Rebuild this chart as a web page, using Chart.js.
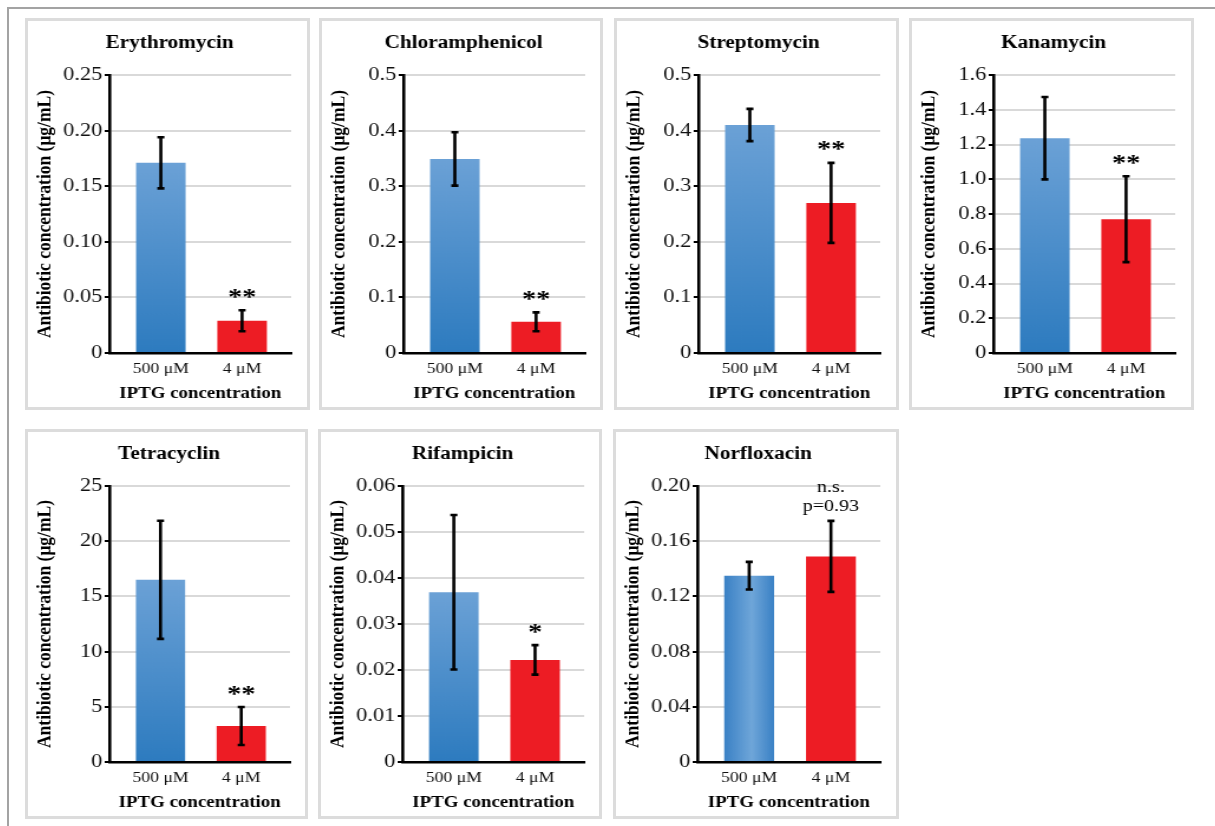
<!doctype html>
<html lang="en">
<head>
<meta charset="utf-8">
<title>Antibiotic concentration vs IPTG</title>
<style>
  * { box-sizing: border-box; margin: 0; padding: 0; }
  body { width: 1215px; height: 826px; background: #fff; position: relative; overflow: hidden; }
  .frame { position: absolute; left: 7px; top: 7px; width: 1230px; height: 840px;
    border-top: 2px solid #a3a3a3; border-left: 2px solid #a3a3a3; }
  .panel { position: absolute; border: 3px solid #dcdcdc; background: #fff; overflow: hidden; }
  .panel canvas { position: absolute; left: 0; top: 0; transform-origin: 0 0; }
</style>
</head>
<body>
<div class="frame"></div>
<div id="panels"></div>
<script src="https://cdn.jsdelivr.net/npm/chart.js@4.4.1/dist/chart.umd.min.js"></script>
<script>
// values (means and error-bar half-lengths)
const antibiotics = ["Erythromycin", "Chloramphenicol", "Streptomycin", "Kanamycin", "Tetracyclin", "Rifampicin", "Norfloxacin"];
const doseLabels = ["500 μM", "4 μM"];
const mean500 = [0.171, 0.349, 0.41, 1.236, 16.5, 0.0369, 0.135];
const mean4 = [0.029, 0.056, 0.27, 0.77, 3.26, 0.0222, 0.149];
const err500 = [0.023, 0.048, 0.029, 0.237, 5.35, 0.0168, 0.010];
const err4 = [0.0095, 0.017, 0.072, 0.247, 1.72, 0.0032, 0.0257];
const marks = [["**"], ["**"], ["**"], ["**"], ["**"], ["*"], ["n.s.", "p=0.93"]];
const yTicks = [
  ["0", "0.05", "0.10", "0.15", "0.20", "0.25"],
  ["0", "0.1", "0.2", "0.3", "0.4", "0.5"],
  ["0", "0.1", "0.2", "0.3", "0.4", "0.5"],
  ["0", "0.2", "0.4", "0.6", "0.8", "1.0", "1.2", "1.4", "1.6"],
  ["0", "5", "10", "15", "20", "25"],
  ["0", "0.01", "0.02", "0.03", "0.04", "0.05", "0.06"],
  ["0", "0.04", "0.08", "0.12", "0.16", "0.20"],
];

// page layout: [left, top, width, height] of each boxed panel
const boxes = [
  [25, 18, 285, 392], [319, 18, 284, 392], [614, 18, 285, 392], [909, 18, 285, 392],
  [25, 429, 283, 390], [318, 429, 284, 390], [613, 429, 286, 390],
];
const SX = 1.18;               // the figure is stretched horizontally
const SERIF = '"Liberation Serif", "Times New Roman", serif';
const RED = "#ed1c24";
const BAR_PCT = 0.61;
// the two bars sit a little inside the plot, so x runs on a padded linear range
const X_MIN = -0.633, X_MAX = 1.604;

const errorBars = {
  id: "errorBars",
  afterDatasetsDraw(chart) {
    const ds = chart.data.datasets[0];
    const y = chart.scales.y, ctx = chart.ctx;
    const bars = chart.getDatasetMeta(0).data;
    ctx.save();
    ctx.strokeStyle = "#000";
    ctx.lineWidth = 2.6;
    bars.forEach((bar, i) => {
      const v = ds.data[i].y;
      const top = y.getPixelForValue(v + ds.errors[i]);
      const bot = y.getPixelForValue(v - ds.errors[i]);
      ctx.beginPath();
      ctx.moveTo(bar.x, top); ctx.lineTo(bar.x, bot);
      ctx.moveTo(bar.x - 3, top); ctx.lineTo(bar.x + 3, top);
      ctx.moveTo(bar.x - 3, bot); ctx.lineTo(bar.x + 3, bot);
      ctx.stroke();
    });
    // significance mark above the 4 μM bar
    const b = bars[1];
    const errTop = y.getPixelForValue(ds.data[1].y + ds.errors[1]);
    ctx.fillStyle = "#000";
    ctx.textAlign = "center";
    ctx.textBaseline = "alphabetic";
    if (ds.mark.length === 1) {
      ctx.font = "bold 24px " + SERIF;
      ctx.fillText(ds.mark[0], b.x, errTop - 6.5);
    } else {
      ctx.font = "17px " + SERIF;
      ctx.fillText(ds.mark[1], b.x, errTop - 9.5);
      ctx.fillText(ds.mark[0], b.x, errTop - 29);
    }
    ctx.restore();
  }
};

function barFill(k) {
  return (c) => {
    const chart = c.chart, area = chart.chartArea;
    if (c.dataIndex === 1) return RED;
    if (!area) return "#4a8fcd";
    const y = chart.scales.y, x = chart.scales.x;
    const ctx = chart.ctx;
    let g;
    if (k === 6) {
      const cx = x.getPixelForValue(0);
      const hw = (x.getPixelForValue(1) - cx) * BAR_PCT / 2;
      g = ctx.createLinearGradient(cx - hw, 0, cx + hw, 0);
      g.addColorStop(0, "#3a81c5");
      g.addColorStop(0.55, "#6fa6d9");
      g.addColorStop(1, "#3a81c5");
    } else {
      g = ctx.createLinearGradient(0, y.getPixelForValue(c.parsed.y), 0, y.getPixelForValue(0));
      g.addColorStop(0, "#6ba1d6");
      g.addColorStop(1, "#2d7bbf");
    }
    return g;
  };
}

const holder = document.getElementById("panels");
antibiotics.forEach((name, k) => {
  const [l, t, w, h] = boxes[k];
  const div = document.createElement("div");
  div.className = "panel";
  Object.assign(div.style, { left: l + "px", top: t + "px", width: w + "px", height: h + "px" });
  const cv = document.createElement("canvas");
  cv.width = Math.round((w - 6) / SX);
  cv.height = h - 6;
  cv.style.transform = "scaleX(" + SX + ")";
  div.appendChild(cv);
  holder.appendChild(div);

  const ticks = yTicks[k];
  new Chart(cv, {
    type: "bar",
    data: {
      datasets: [{
        data: [{ x: 0, y: mean500[k] }, { x: 1, y: mean4[k] }],
        errors: [err500[k], err4[k]],
        mark: marks[k],
        backgroundColor: barFill(k),
        borderWidth: 0,
        barPercentage: BAR_PCT,
        categoryPercentage: 1,
      }],
    },
    options: {
      responsive: false,
      animation: false,
      events: [],
      layout: { padding: { left: 4, right: 0, top: 0, bottom: 2 } },
      plugins: {
        legend: { display: false },
        tooltip: { enabled: false },
        title: { display: true, text: name, color: "#000",
          font: { family: SERIF, size: 18, weight: "bold" }, padding: { top: 12, bottom: 20.4 } },
      },
      scales: {
        x: {
          type: "linear",
          offset: false,
          min: X_MIN,
          max: X_MAX,
          afterBuildTicks(s) { s.ticks = [{ value: 0 }, { value: 1 }]; },
          grid: { display: false, drawTicks: false },
          border: { color: "#000", width: 2.6 },
          ticks: { callback: (v, i) => doseLabels[i], color: "#111", font: { family: SERIF, size: 15 },
            padding: 7, autoSkip: false, maxRotation: 0 },
          title: { display: true, text: "IPTG concentration", color: "#000",
            font: { family: SERIF, size: 16, weight: "bold" }, padding: { top: 0, bottom: 2 } },
          afterFit(s) { s.height = 52; },
        },
        y: {
          min: 0,
          max: parseFloat(ticks[ticks.length - 1]),
          afterBuildTicks(s) { s.ticks = ticks.map((v) => ({ value: parseFloat(v) })); },
          ticks: { callback: (v, i) => ticks[i], color: "#111", font: { family: SERIF, size: 19 }, padding: 2 },
          grid: { color: "#d9d9d9", lineWidth: 2, tickColor: "#000", tickLength: 4, tickWidth: 2 },
          border: { color: "#000", width: 2.6 },
          title: { display: true, text: "Antibiotic concentration (μg/mL)", color: "#000",
            font: { family: SERIF, size: 17.5, weight: "bold" }, padding: { top: 0, bottom: 0 } },
          afterFit(s) { s.width = 65; },
        },
        // empty right-hand axis: keeps the gridlines short of the panel edge
        yPad: {
          position: "right",
          ticks: { display: false },
          grid: { drawOnChartArea: false, drawTicks: false },
          border: { display: false },
          afterFit(s) { s.width = 13; },
        },
      },
    },
    plugins: [errorBars],
  });
});
</script>
</body>
</html>
